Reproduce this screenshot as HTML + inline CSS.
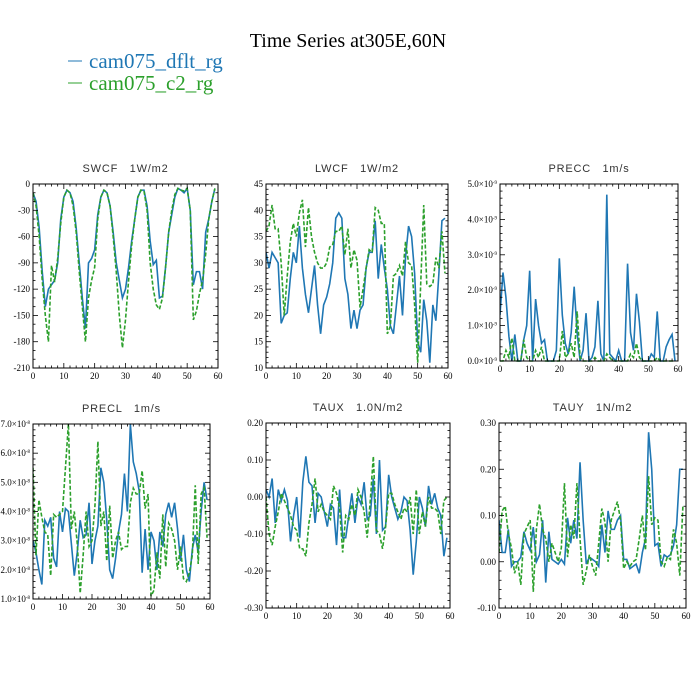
<!DOCTYPE html>
<html><head><meta charset="utf-8">
<style>
html,body{margin:0;padding:0;background:#fff;}
svg{display:block;}
.tk{font-family:"Liberation Serif",serif;font-size:9px;fill:#000;}
.pt{font-family:"Liberation Sans",sans-serif;font-size:11px;fill:#333;letter-spacing:0.8px;white-space:pre;}
</style></head>
<body>
<svg id="chart" width="700" height="700" viewBox="0 0 700 700">
<rect width="700" height="700" fill="#fff"/>
<text x="348" y="47" text-anchor="middle" font-family="Liberation Serif,serif" font-size="20">Time Series at305E,60N</text>
<g>
<g><line x1="68" y1="61" x2="82" y2="61" stroke="#1f77b4" stroke-width="1"/><text x="89" y="68" font-family="Liberation Serif,serif" font-size="21" fill="#1f77b4">cam075_dflt_rg</text></g>
<g><line x1="68" y1="83" x2="82" y2="83" stroke="#2ca02c" stroke-width="1"/><text x="89" y="90" font-family="Liberation Serif,serif" font-size="21" fill="#2ca02c">cam075_c2_rg</text></g>
</g>
</svg>
<script>
const months = Array.from({length:60},(_,i)=>i);
const xTicks = [0,10,20,30,40,50,60];

const swcfBlue = [-10,-20,-50,-100,-140,-120,-115,-110,-90,-40,-15,-7,-10,-20,-50,-90,-130,-165,-90,-85,-75,-35,-15,-7,-10,-25,-55,-90,-110,-130,-120,-95,-65,-40,-15,-7,-7,-25,-65,-92,-87,-130,-128,-95,-55,-35,-15,-5,-7,-10,-5,-30,-115,-100,-100,-120,-55,-40,-20,-5];
const swcfGreen = [-10,-25,-60,-110,-150,-180,-93,-112,-85,-45,-15,-7,-10,-25,-55,-100,-140,-180,-130,-110,-95,-40,-15,-7,-10,-25,-60,-100,-150,-187,-155,-110,-70,-40,-15,-7,-8,-30,-90,-120,-138,-143,-130,-95,-55,-30,-12,-5,-7,-8,-5,-30,-155,-145,-125,-110,-80,-40,-20,-5];
const lwcfBlue = [32,29,32,31,30,18.5,20,20.5,27,32,30,37,29,24,20.5,25,29.5,22,16.5,22,23.5,26,30,38.5,39.5,38.5,27,24,17.5,21,17.5,21,22,29,32,32,38,27,33.5,29,25,18,16.5,22,27.5,20,31,37,35,28,15,13,23,19,11,22,19,28,38,38.5];
const lwcfGreen = [36,37,41,36.5,36.5,30,20,27.5,34,37.5,35,39.5,42,33,40.5,35,32,30,29,29,30,33,33.5,36,36,37,31.5,36.5,29,32.5,30.5,21.5,25,29,32.5,32,40.5,40,37.5,37.5,16.5,18,27.5,28,29.5,27.5,34,30,29.5,22,11,26,41,26,25.5,26,31,29,36,28];
const preccBlue = [1.3,2.5,1.8,0.7,0,0.75,0,0,0.6,1.0,2.55,0,1.75,1.0,0.5,0.6,0,0,0,0.3,2.9,1.3,0.5,0.2,0.8,2.1,0.8,0,0.3,1.35,0,0.1,0.4,1.7,0.2,0,4.7,0.2,0.1,0,0.3,0,0,2.75,0.8,0.3,1.9,1.1,0,0,0,0.2,0.1,1.4,0,0,0.4,0.6,0.75,0];
const preccGreen = [0,0,0.3,0.1,0.65,0,0,0,0.6,0.1,0,0,0.3,0.1,0.4,0,0,0,0,0,0,0.85,0.1,0.2,0.5,0.1,1.4,0.1,0,0,0,0,0.1,0,0,0,0.2,0.1,0,0,0,0,0,0,0.2,0.1,0.5,0.1,0,0,0,0,0,0.1,0,0,0,0,0,0];
const preclBlue = [3.0,2.6,2.0,1.5,3.7,3.5,3.8,2.4,2.1,4.0,3.3,4.1,4.0,2.9,1.8,2.6,3.7,3.1,3.2,4.3,2.2,3.0,3.5,5.5,5.0,3.7,2.0,1.7,2.4,3.3,3.9,5.3,4.0,7.0,5.7,5.3,4.7,1.9,3.4,2.0,3.3,3.0,2.0,3.3,2.8,3.9,4.3,3.8,4.3,3.4,2.3,3.2,2.0,1.6,2.7,3.2,2.6,4.0,5.0,4.4];
const preclGreen = [5.5,2.5,4.4,3.8,3.3,3.2,1.8,3.9,3.8,3.9,4.0,5.5,7.0,3.4,4.0,2.9,1.2,2.5,4.0,2.8,3.0,4.2,6.4,3.5,4.0,2.3,4.2,2.4,3.0,3.3,2.7,2.8,2.8,4.3,4.8,4.6,4.6,5.4,4.1,4.6,1.1,1.3,2.6,1.7,3.9,2.1,3.6,3.4,3.0,2.0,2.8,1.7,1.6,1.9,2.5,4.9,2.2,4.6,4.8,3.1];
const tauxBlue = [0.02,0.0,0.05,-0.07,0.02,-0.01,0.02,-0.01,-0.12,-0.05,0.0,-0.11,0.04,0.11,0.04,0.03,-0.07,0.01,0.0,-0.04,-0.08,-0.02,-0.03,-0.13,0.02,-0.11,-0.11,-0.05,0.01,-0.07,0.0,-0.02,0.04,-0.06,-0.05,0.05,-0.1,0.1,-0.09,-0.08,0.06,0.0,-0.03,-0.06,-0.04,0.0,-0.01,-0.09,-0.21,-0.12,0.0,-0.03,-0.08,0.03,-0.02,0.01,-0.03,-0.05,-0.16,-0.11];
const tauxGreen = [0.0,-0.1,-0.13,-0.08,-0.04,0.01,-0.01,-0.03,-0.05,-0.08,-0.09,-0.14,-0.14,-0.16,-0.07,-0.02,0.05,-0.04,-0.02,-0.04,-0.05,-0.06,0.03,0.01,-0.03,-0.15,-0.05,-0.06,-0.02,-0.05,0.02,0.0,-0.04,-0.11,-0.01,0.11,-0.09,-0.1,-0.14,-0.08,0.01,0.01,-0.02,-0.04,-0.06,-0.03,-0.04,0.0,-0.1,0.02,-0.1,-0.04,-0.08,0.0,-0.03,-0.03,-0.04,-0.1,-0.01,0.0];
const tauyBlue = [0.09,0.02,0.02,0.07,-0.01,0.0,0.0,0.01,0.065,0.04,0.025,0.075,0.0,0.015,0.09,-0.045,0.065,0.005,0.0,-0.005,0.005,-0.005,0.095,0.04,0.09,0.05,0.215,0.09,-0.005,0.01,0.005,0.0,-0.01,0.08,0.02,0.11,0.07,0.07,0.09,0.1,0.005,0.005,-0.015,-0.01,-0.005,-0.025,0.02,0.05,0.28,0.2,0.035,0.04,-0.01,0.015,0.01,0.015,0.035,0.08,0.2,0.2];
const tauyGreen = [0.02,0.11,0.12,0.06,0.03,-0.025,0.0,-0.05,0.06,0.075,0.09,-0.065,0.07,0.125,0.07,0.05,0.0,0.04,0.02,0.0,0.03,0.17,0.01,0.08,0.05,0.17,0.05,-0.05,-0.02,0.015,-0.01,-0.03,0.04,0.115,0.085,0.0,0.09,0.11,0.13,0.09,-0.015,0.0,-0.01,0.0,0.005,0.05,0.1,0.025,0.185,0.08,0.095,0.09,0.0,-0.01,0.01,0.005,0.07,0.04,-0.03,0.12];

const swcfTicks = [0,-30,-60,-90,-120,-150,-180,-210];
const lwcfTicks = [45,40,35,30,25,20,15,10];
const preccTicks = ["0.0","1.0","2.0","3.0","4.0","5.0"];
const preclTicks = ["1.0","2.0","3.0","4.0","5.0","6.0","7.0"];
const tauxTicks = ["0.20","0.10","0.00","-0.10","-0.20","-0.30"];
const tauyTicks = ["0.30","0.20","0.10","0.00","-0.10"];

const NS = "http://www.w3.org/2000/svg";
const svg = document.getElementById("chart");
function mk(tag, attrs, parent){
  const e = document.createElementNS(NS, tag);
  for (const k in attrs) e.setAttribute(k, attrs[k]);
  parent.appendChild(e);
  return e;
}

function panel(cfg){
  const g = mk("g", {}, svg);
  
  
  const {x0,x1,y0,y1,ymin,ymax} = cfg;
  const sx = v => x0 + (v - 0) / 60 * (x1 - x0);
  const sy = v => y1 - (v - ymin) / (ymax - ymin) * (y1 - y0);
  const t = mk("text", {x:(x0+x1)/2, y:y0-12, "text-anchor":"middle", class:"pt"}, g);
  t.textContent = cfg.title;
  
  
  const cid = "clip-" + cfg.name;
  const cp = mk("clipPath", {id:cid}, g);
  mk("rect", {x:x0, y:y0-1, width:x1-x0, height:y1-y0+2}, cp);
  const series = [[cfg.blue,"#1f77b4",null,"blue-series"],[cfg.green,"#2ca02c","4,2","green-series"]];
  series.forEach(([arr,col,dash,nm])=>{
    const d = arr.map((v,i)=>(i?"L":"M")+sx(months[i]).toFixed(2)+","+sy(v*cfg.scale).toFixed(2)).join("");
    const p = mk("path", {d, fill:"none", stroke:col, "stroke-width":1.6, "clip-path":"url(#"+cid+")"}, g);
    if (dash) p.setAttribute("stroke-dasharray", dash);
    
    
  });
  const fr = mk("rect", {x:x0, y:y0, width:x1-x0, height:y1-y0, fill:"none", stroke:"#000", "stroke-width":1}, g);
  
  
  for (let v=0; v<=60; v+=2){
    const X = sx(v), L = v%10===0 ? 5 : 2.5;
    mk("line", {x1:X, y1:y1, x2:X, y2:y1-L, stroke:"#000", "stroke-width":0.8}, g);
    mk("line", {x1:X, y1:y0, x2:X, y2:y0+L, stroke:"#000", "stroke-width":0.8}, g);
  }
  xTicks.forEach(v=>{
    const tx = mk("text", {x:sx(v), y:y1+11, "text-anchor":"middle", class:"tk"}, g);
    tx.textContent = v;
    
    
  });
  const labs = cfg.ticks;
  const vals = labs.map(Number);
  const step = Math.abs(vals[1]-vals[0]);
  const mstep = step / cfg.minor;
  for (let k=0; ; k++){
    const v = ymin + k*mstep;
    if (v > ymax + 1e-9) break;
    const Y = sy(v*1), major = k % cfg.minor === 0, L = major ? 5 : 2.5;
    mk("line", {x1:x0, y1:Y, x2:x0+L, y2:Y, stroke:"#000", "stroke-width":0.8}, g);
    mk("line", {x1:x1, y1:Y, x2:x1-L, y2:Y, stroke:"#000", "stroke-width":0.8}, g);
  }
  labs.forEach((s,i)=>{
    const Y = sy(vals[i]);
    const ty = mk("text", {x:x0-3, y:Y+3, "text-anchor":"end", class:"tk"}, g);
    if (cfg.exp){
      ty.setAttribute("font-size","8");
      ty.textContent = s + "\u00d710";
      const sp = mk("tspan", {dy:-3, "font-size":"5"}, ty);
      sp.textContent = cfg.exp;
    } else ty.textContent = s;
    
    
  });
}

panel({name:"swcf", title:"SWCF   1W/m2", x0:33, x1:218, y0:184, y1:368, ymin:-210, ymax:0, blue:swcfBlue, green:swcfGreen, scale:1, ticks:swcfTicks.map(String), minor:3});
panel({name:"lwcf", title:"LWCF   1W/m2", x0:266, x1:448, y0:184, y1:368, ymin:10, ymax:45, blue:lwcfBlue, green:lwcfGreen, scale:1, ticks:lwcfTicks.map(String), minor:5});
panel({name:"precc", title:"PRECC   1m/s", x0:500, x1:678, y0:184, y1:361, ymin:0, ymax:5, blue:preccBlue, green:preccGreen, scale:1, ticks:preccTicks, minor:5, exp:"-9"});
panel({name:"precl", title:"PRECL   1m/s", x0:33, x1:210, y0:424, y1:599, ymin:1, ymax:7, blue:preclBlue, green:preclGreen, scale:1, ticks:preclTicks, minor:5, exp:"-8"});
panel({name:"taux", title:"TAUX   1.0N/m2", x0:266, x1:450, y0:423, y1:608, ymin:-0.3, ymax:0.2, blue:tauxBlue, green:tauxGreen, scale:1, ticks:tauxTicks, minor:5});
panel({name:"tauy", title:"TAUY   1N/m2", x0:499, x1:686, y0:423, y1:608, ymin:-0.1, ymax:0.3, blue:tauyBlue, green:tauyGreen, scale:1, ticks:tauyTicks, minor:5});
</script>
</body></html>
